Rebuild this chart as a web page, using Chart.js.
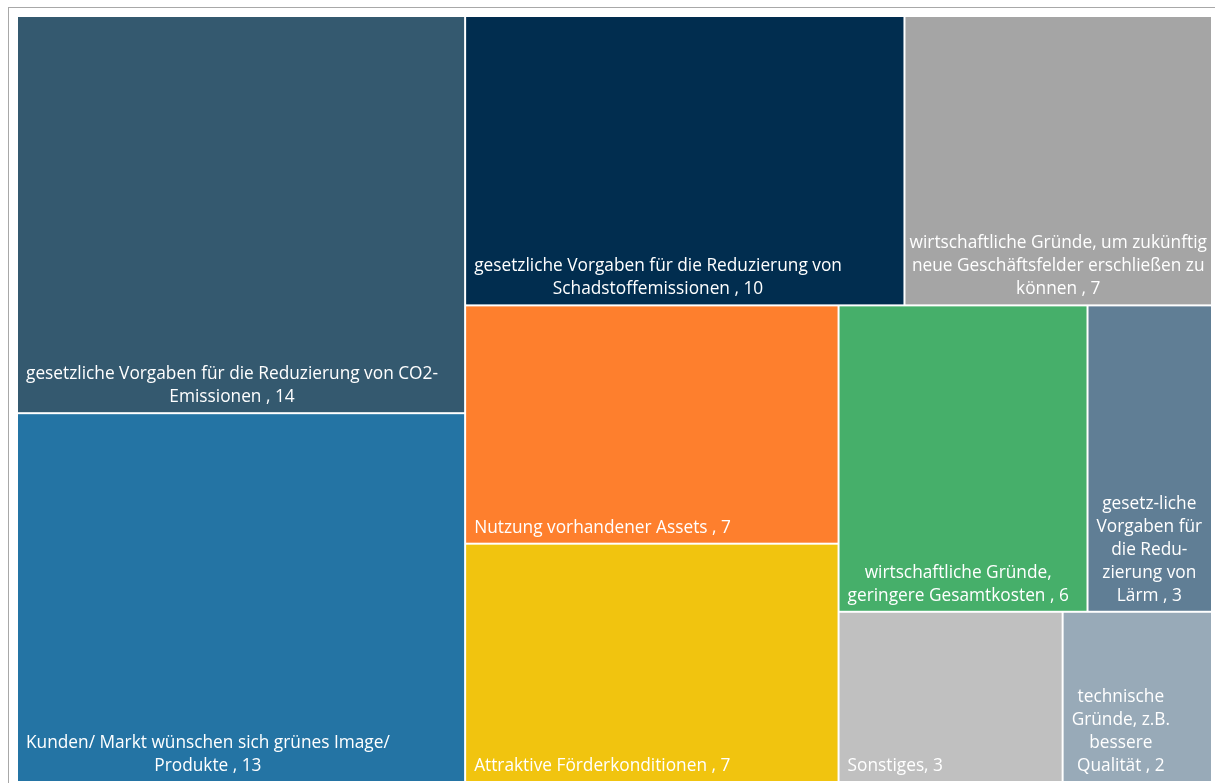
<!DOCTYPE html>
<html><head><meta charset="utf-8">
<script src="https://cdn.jsdelivr.net/npm/chart.js@4.4.1/dist/chart.umd.min.js"></script>
<style>html,body{margin:0;padding:0;background:#fff;overflow:hidden}#wrap{position:absolute;left:0;top:0;width:1215px;height:783px}</style>
</head><body><div id="wrap"><canvas id="c"></canvas></div>
<script>
// ---- data ----
const categories = [
  "gesetzliche Vorgaben für die Reduzierung von CO2-Emissionen",
  "Kunden/ Markt wünschen sich grünes Image/ Produkte",
  "gesetzliche Vorgaben für die Reduzierung von Schadstoffemissionen",
  "wirtschaftliche Gründe, um zukünftig neue Geschäftsfelder erschließen zu können",
  "Nutzung vorhandener Assets",
  "Attraktive Förderkonditionen",
  "wirtschaftliche Gründe, geringere Gesamtkosten",
  "gesetzliche Vorgaben für die Reduzierung von Lärm",
  "Sonstiges",
  "technische Gründe, z.B. bessere Qualität"
];
const values = [14, 13, 10, 7, 7, 7, 6, 3, 3, 2];
const labelLines = [
  ["gesetzliche Vorgaben für die Reduzierung von CO2-", "Emissionen"],
  ["Kunden/ Markt wünschen sich grünes Image/", "Produkte"],
  ["gesetzliche Vorgaben für die Reduzierung von", "Schadstoffemissionen"],
  ["wirtschaftliche Gründe, um zukünftig", "neue Geschäftsfelder erschließen zu", "können"],
  ["Nutzung vorhandener Assets"],
  ["Attraktive Förderkonditionen"],
  ["wirtschaftliche Gründe,", "geringere Gesamtkosten"],
  ["gesetz-liche", "Vorgaben für", "die Redu-", "zierung von", "Lärm"],
  ["Sonstiges"],
  ["technische", "Gründe, z.B.", "bessere", "Qualität"]
];
const valueSeparators = [" , ", " , ", " , ", " , ", " , ", " , ", " , ", " , ", ", ", " , "];
const colors = ["#34596F", "#2474A4", "#012D4F", "#A5A5A5", "#FE7F2D", "#F1C40F", "#46AF6A", "#607E95", "#C0C0C0", "#98AAB8"];
const rowLengths = [2, 2, 2, 2, 1, 1]; // number of cells in each squarified strip

// ---- squarified strip layout in normalised units (0..1), aspect from chart area ----
function computeLayout(W, H) {
  const rects = [];
  let x = 0, y = 0, w = W, h = H;
  let remaining = values.reduce((a, b) => a + b, 0);
  let idx = 0;
  for (const len of rowLengths) {
    const row = values.slice(idx, idx + len);
    const s = row.reduce((a, b) => a + b, 0);
    if (w >= h) {
      const cw = w * s / remaining;
      let cy = y;
      row.forEach((v, k) => { const ch = h * v / s; rects[idx + k] = {x0: x, y0: cy, x1: x + cw, y1: cy + ch}; cy += ch; });
      x += cw; w -= cw;
    } else {
      const rh = h * s / remaining;
      let cx = x;
      row.forEach((v, k) => { const cw = w * v / s; rects[idx + k] = {x0: cx, y0: y, x1: cx + cw, y1: y + rh}; cx += cw; });
      y += rh; h -= rh;
    }
    remaining -= s; idx += len;
  }
  return rects.map(r => ({x0: r.x0 / W, x1: r.x1 / W, y0: r.y0 / H, y1: r.y1 / H}));
}

const treemapPlugin = {
  id: 'treemap',
  beforeDraw(chart) {
    const ctx = chart.ctx;
    ctx.save();
    ctx.strokeStyle = '#A8A8A8';
    ctx.lineWidth = 1;
    ctx.strokeRect(8.5, 7.5, 1220, 800);
    ctx.restore();
  },
  afterDatasetsDraw(chart) {
    const ctx = chart.ctx, xs = chart.scales.x, ys = chart.scales.y, ca = chart.chartArea;
    const rects = computeLayout(ca.right - ca.left, ca.bottom - ca.top);
    const pad = 9, lineH = 23, bottomOff = 11;
    ctx.save();
    rects.forEach((r, i) => {
      const L = xs.getPixelForValue(r.x0), R = xs.getPixelForValue(r.x1);
      const T = ys.getPixelForValue(r.y0), B = ys.getPixelForValue(r.y1);
      ctx.fillStyle = colors[i];
      ctx.fillRect(L + 1, T + 1, R - L - 2, B - T - 2);
      // label
      const lines = labelLines[i].slice();
      lines[lines.length - 1] += valueSeparators[i] + values[i];
      ctx.font = '17.3px "Open Sans"';
      ctx.fillStyle = '#FFFFFF';
      ctx.textAlign = 'center';
      ctx.textBaseline = 'alphabetic';
      const maxW = Math.max(...lines.map(t => ctx.measureText(t).width));
      const avail = (R - L) - 2 * pad;
      const cx = maxW > avail ? (L + R) / 2 : L + pad + maxW / 2;
      ctx.save();
      ctx.beginPath(); ctx.rect(L + 1, T + 1, R - L - 2, B - T - 2); ctx.clip();
      lines.forEach((t, k) => {
        ctx.fillText(t, cx, B - bottomOff - (lines.length - 1 - k) * lineH);
      });
      ctx.restore();
    });
    ctx.restore();
  }
};

new Chart(document.getElementById('c'), {
  type: 'scatter',
  data: { datasets: [{ label: 'Anzahl', data: [] }] },
  options: {
    responsive: true, maintainAspectRatio: false, animation: false,
    layout: { padding: { left: 17, top: 16, right: 3, bottom: 1 } },
    scales: {
      x: { type: 'linear', min: 0, max: 1, display: false },
      y: { type: 'linear', min: 0, max: 1, reverse: true, display: false }
    },
    plugins: { legend: { display: false }, tooltip: { enabled: false } }
  },
  plugins: [treemapPlugin]
});
</script></body></html>
